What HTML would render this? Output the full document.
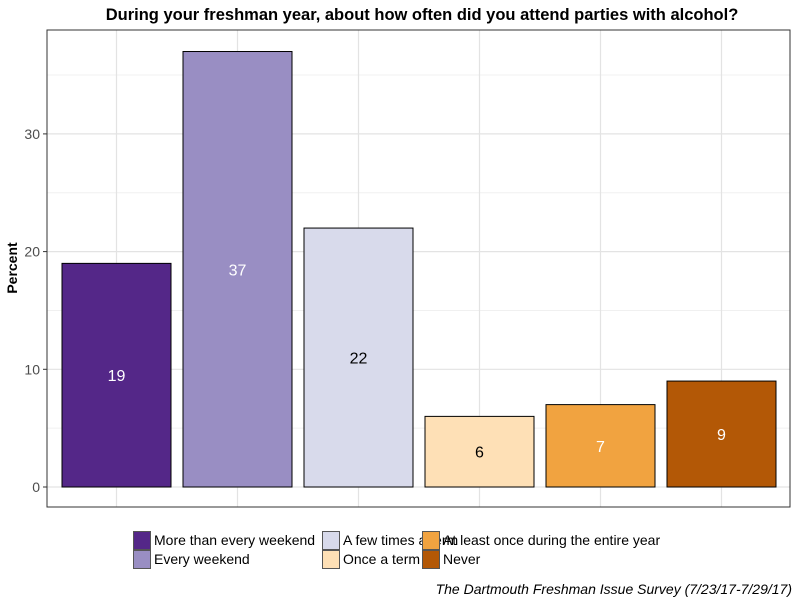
<!DOCTYPE html>
<html><head><meta charset="utf-8"><style>
body{margin:0;background:#fff;font-family:"Liberation Sans",Arial,sans-serif;}
svg{display:block}
</style></head><body>
<svg id="c" width="800" height="600">
<text x="422" y="20" text-anchor="middle" font-size="16.5" font-weight="bold" fill="#000">During your freshman year, about how often did you attend parties with alcohol?</text>
<text transform="translate(17,268) rotate(-90)" text-anchor="middle" font-size="14" font-weight="bold">Percent</text>
<text x="792" y="594" text-anchor="end" font-size="14" font-style="italic">The Dartmouth Freshman Issue Survey (7/23/17-7/29/17)</text>
<g id="plot"></g>
<g id="legend"></g>
</svg>
<script>
const categories=["More than every weekend","Every weekend","A few times a term","Once a term","At least once during the entire year","Never"];
const values=[19,37,22,6,7,9];
const colors=["#542788","#998ec3","#d8daeb","#fee0b6","#f1a340","#b35806"];
const labelColors=["#fff","#fff","#000","#000","#fff","#fff"];
const yTicks=[0,10,20,30];
const ns="http://www.w3.org/2000/svg";
const L=47,R=790,T=30,B=507;
const y0=487,pxPer=11.77;
function y(v){return y0-v*pxPer;}
const band=(R-L)/categories.length*0.9815;
function xc(i){return 116.5+i*121;}
const plot=document.getElementById('plot');
function mk(tag,attrs,parent){const e=document.createElementNS(ns,tag);for(const k in attrs)e.setAttribute(k,attrs[k]);parent.appendChild(e);return e;}
// grid
for(let v=5;v<=40;v+=10){if(y(v)>T){const g=mk('line',{x1:L,x2:R,y1:y(v),y2:y(v),stroke:'#f0f0f0','stroke-width':1},plot);

}}
yTicks.forEach(v=>{const g=mk('line',{x1:L,x2:R,y1:y(v),y2:y(v),stroke:'#e3e3e3','stroke-width':1.2},plot);


const tk=mk('line',{x1:L-4,x2:L,y1:y(v),y2:y(v),stroke:'#333'},plot);


const t=mk('text',{x:L-7,y:y(v)+5,'text-anchor':'end','font-size':14,fill:'#4d4d4d'},plot);t.textContent=v;

});
categories.forEach((c,i)=>{const g=mk('line',{x1:xc(i),x2:xc(i),y1:T,y2:B,stroke:'#e3e3e3','stroke-width':1.2},plot);

});
const bw=109;
categories.forEach((c,i)=>{
 const r=mk('rect',{x:xc(i)-bw/2,y:y(values[i]),width:bw,height:y0-y(values[i]),fill:colors[i],stroke:'#000','stroke-width':1},plot);
 
 
 const t=mk('text',{x:xc(i),y:y(values[i]/2)+6,'text-anchor':'middle','font-size':16,fill:labelColors[i]},plot);
 t.textContent=values[i];
 
 
});
const fr=mk('rect',{x:L,y:T,width:R-L,height:B-T,fill:'none',stroke:'#333','stroke-width':1},plot);


// legend
const lg=document.getElementById('legend');
const colX=[133,322,422],rowY=[531,550];
categories.forEach((c,i)=>{
 const col=Math.floor(i/2),row=i%2;
 const k=mk('rect',{x:colX[col]+0.5,y:rowY[row]+0.5,width:17,height:18,fill:colors[i],stroke:'#555','stroke-width':1},lg);
 
 
 const t=mk('text',{x:colX[col]+21,y:rowY[row]+14,'font-size':14,fill:'#000'},lg);
 t.textContent=c;
 
 
});
</script>
</body></html>
